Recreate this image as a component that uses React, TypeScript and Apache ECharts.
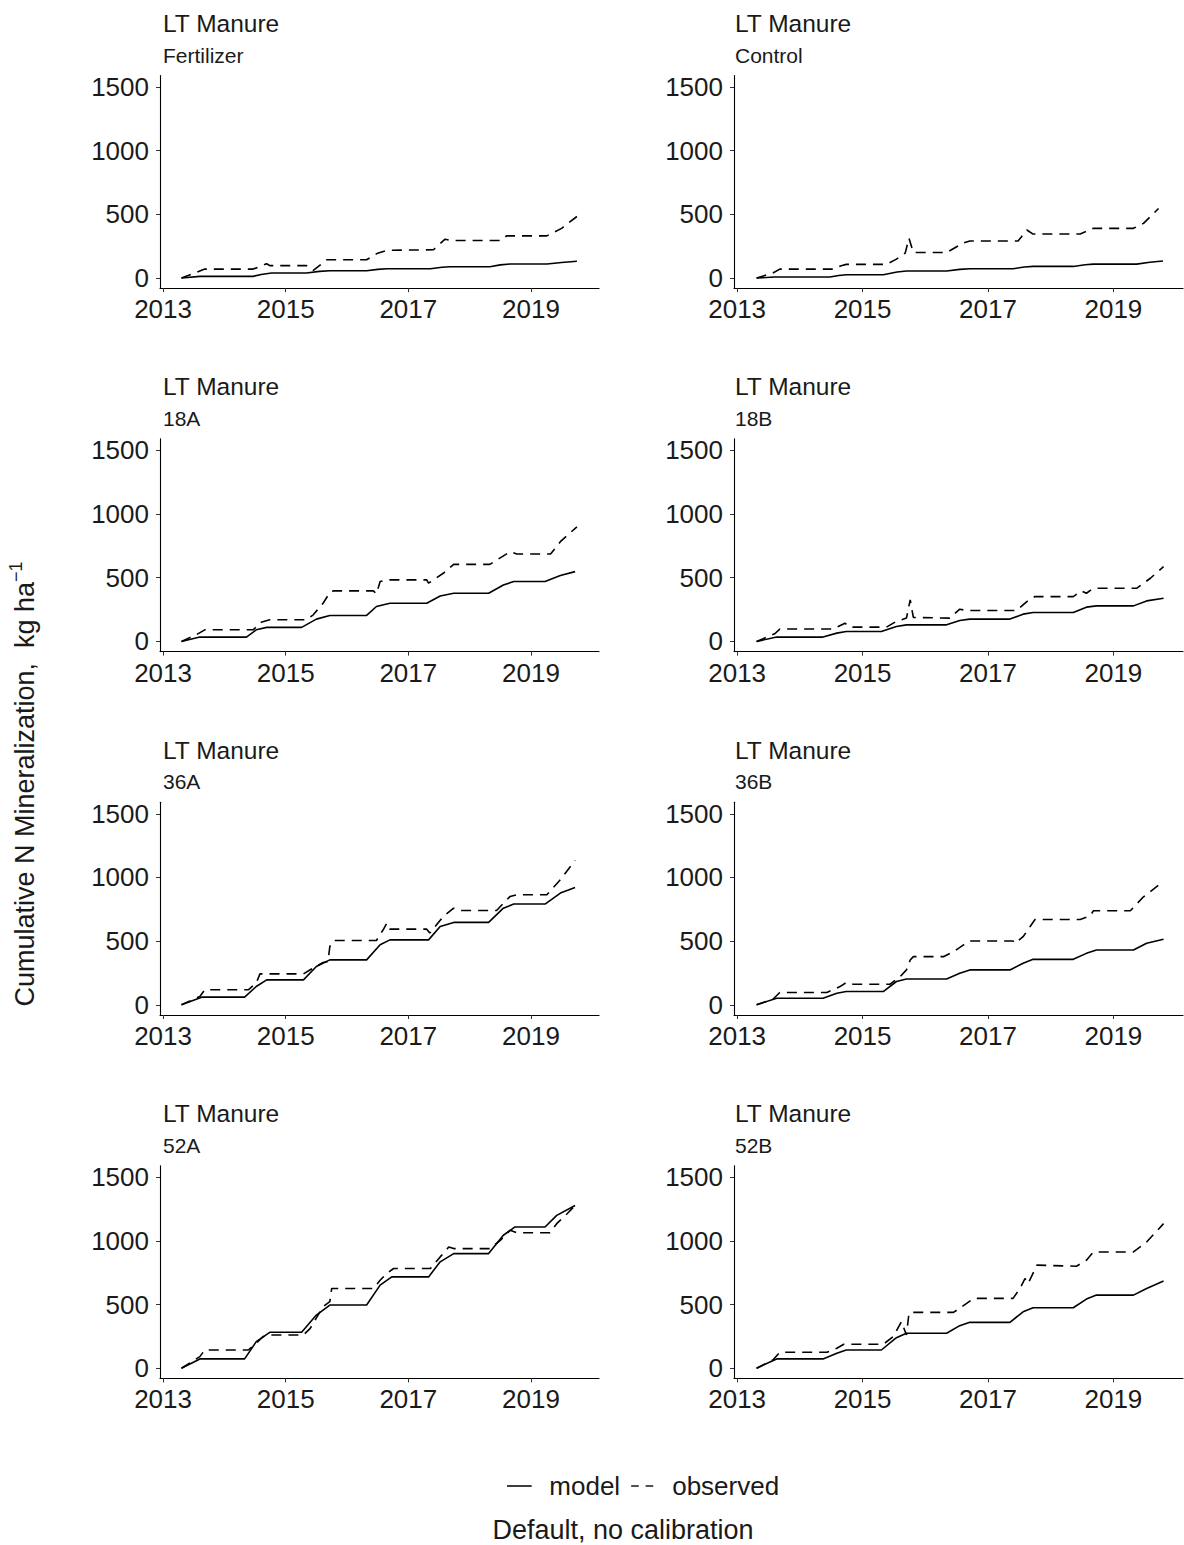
import React, { useEffect, useRef } from "react";
import * as echarts from "echarts";

const FONT = "'Liberation Sans', Arial, Helvetica, sans-serif";
const TXT = "#1a1a1a";

const panelTitle = "LT Manure";
const subtitles = ["Fertilizer", "Control", "18A", "18B", "36A", "36B", "52A", "52B"];
const xTicks = [2013, 2015, 2017, 2019];
const yTicks = [0, 500, 1000, 1500];

const fertModel = [[2013.30,0],[2013.60,13],[2014.47,13],[2014.60,28],[2014.77,39],[2015.34,39],[2015.55,52],[2015.72,57],[2016.32,57],[2016.50,68],[2016.65,73],[2017.36,73],[2017.55,85],[2017.68,89],[2018.33,89],[2018.50,103],[2018.66,110],[2019.26,110],[2019.50,122],[2019.75,132]];
const fertObs = [[2013.30,0],[2013.54,44],[2013.68,70],[2014.47,70],[2014.60,95],[2014.69,112],[2014.74,97],[2015.34,97],[2015.45,60],[2015.67,143],[2016.32,143],[2016.50,195],[2016.65,217],[2017.41,222],[2017.60,305],[2017.68,295],[2018.50,295],[2018.55,308],[2018.60,331],[2019.26,331],[2019.50,390],[2019.75,483]];
const ctrlModel = [[2013.31,0],[2013.60,8],[2014.48,8],[2014.62,20],[2014.74,26],[2015.33,26],[2015.55,47],[2015.70,55],[2016.34,55],[2016.55,68],[2016.71,73],[2017.40,73],[2017.58,86],[2017.72,91],[2018.36,91],[2018.55,104],[2018.68,109],[2019.37,109],[2019.58,124],[2019.79,133]];
const ctrlObs = [[2013.31,0],[2013.57,39],[2013.68,70],[2014.53,70],[2014.66,96],[2014.74,107],[2015.38,107],[2015.54,148],[2015.68,195],[2015.74,312],[2015.81,200],[2016.34,200],[2016.60,273],[2016.71,291],[2017.48,291],[2017.62,377],[2017.72,345],[2018.47,345],[2018.68,390],[2019.32,390],[2019.48,429],[2019.72,546]];
const a18Model = [[2013.30,0],[2013.60,34],[2014.36,34],[2014.52,91],[2014.69,110],[2015.26,110],[2015.50,175],[2015.72,204],[2016.32,204],[2016.48,274],[2016.70,300],[2017.30,300],[2017.52,357],[2017.74,378],[2018.31,378],[2018.55,443],[2018.72,470],[2019.23,470],[2019.48,517],[2019.72,548]];
const a18Obs = [[2013.30,0],[2013.54,52],[2013.68,91],[2014.47,91],[2014.60,150],[2014.74,170],[2015.34,170],[2015.45,209],[2015.61,300],[2015.72,384],[2015.78,397],[2016.43,397],[2016.48,373],[2016.54,470],[2016.65,483],[2017.30,483],[2017.33,457],[2017.57,535],[2017.74,605],[2018.33,605],[2018.66,704],[2018.77,686],[2019.32,686],[2019.48,783],[2019.75,900]];
const b18Model = [[2013.31,0],[2013.63,34],[2014.37,34],[2014.59,65],[2014.74,78],[2015.30,78],[2015.54,117],[2015.70,130],[2016.34,130],[2016.55,164],[2016.71,175],[2017.35,175],[2017.56,214],[2017.72,227],[2018.36,227],[2018.57,269],[2018.73,279],[2019.32,279],[2019.53,318],[2019.80,339]];
const b18Obs = [[2013.31,0],[2013.60,60],[2013.68,97],[2014.53,97],[2014.72,143],[2014.80,112],[2015.38,112],[2015.54,157],[2015.70,183],[2015.76,326],[2015.81,188],[2016.39,183],[2016.55,253],[2016.66,243],[2017.46,243],[2017.62,313],[2017.70,339],[2017.75,352],[2018.36,352],[2018.49,397],[2018.57,378],[2018.68,417],[2019.37,417],[2019.59,496],[2019.80,587]];
const a36Model = [[2013.30,0],[2013.63,60],[2014.33,60],[2014.52,144],[2014.69,196],[2015.29,196],[2015.50,301],[2015.72,353],[2016.32,353],[2016.54,471],[2016.70,510],[2017.33,510],[2017.52,615],[2017.74,647],[2018.31,647],[2018.55,759],[2018.72,791],[2019.23,791],[2019.48,877],[2019.72,921]];
const a36Obs = [[2013.30,0],[2013.60,65],[2013.68,118],[2014.39,118],[2014.52,170],[2014.58,243],[2015.29,243],[2015.40,275],[2015.61,332],[2015.69,340],[2015.72,458],[2015.78,505],[2016.48,505],[2016.59,589],[2016.65,641],[2016.70,594],[2017.30,594],[2017.35,563],[2017.57,694],[2017.74,759],[2017.85,741],[2018.44,741],[2018.66,851],[2018.77,864],[2019.26,864],[2019.48,982],[2019.72,1134]];
const b36Model = [[2013.31,0],[2013.63,52],[2014.37,52],[2014.59,91],[2014.74,104],[2015.33,104],[2015.54,183],[2015.70,203],[2016.34,203],[2016.55,248],[2016.71,274],[2017.35,274],[2017.56,326],[2017.72,357],[2018.36,357],[2018.57,404],[2018.73,430],[2019.32,430],[2019.53,483],[2019.80,514]];
const b36Obs = [[2013.31,0],[2013.57,44],[2013.68,97],[2014.43,97],[2014.64,143],[2014.74,175],[2014.85,162],[2015.44,162],[2015.60,222],[2015.70,274],[2015.76,352],[2015.81,378],[2016.29,378],[2016.45,417],[2016.61,470],[2016.71,501],[2017.40,501],[2017.43,483],[2017.56,535],[2017.67,613],[2017.75,670],[2018.47,670],[2018.63,697],[2018.68,738],[2019.27,738],[2019.48,848],[2019.72,939]];
const a52Model = [[2013.30,0],[2013.60,73],[2014.33,73],[2014.52,209],[2014.74,282],[2015.26,282],[2015.50,417],[2015.72,496],[2016.32,496],[2016.54,652],[2016.73,717],[2017.33,717],[2017.52,835],[2017.74,900],[2018.31,900],[2018.55,1044],[2018.74,1109],[2019.23,1109],[2019.42,1200],[2019.72,1278]];
const a52Obs = [[2013.30,0],[2013.60,91],[2013.68,143],[2014.39,143],[2014.52,196],[2014.63,248],[2014.74,261],[2015.29,261],[2015.40,313],[2015.61,483],[2015.72,522],[2015.75,626],[2016.43,626],[2016.54,691],[2016.65,744],[2016.76,783],[2017.36,783],[2017.52,874],[2017.66,952],[2017.74,939],[2018.33,939],[2018.50,1004],[2018.66,1083],[2018.77,1064],[2019.31,1064],[2019.42,1135],[2019.59,1213],[2019.72,1278]];
const b52Model = [[2013.31,0],[2013.63,73],[2014.37,73],[2014.59,117],[2014.74,143],[2015.30,143],[2015.54,240],[2015.70,274],[2016.34,274],[2016.55,334],[2016.71,360],[2017.35,360],[2017.56,443],[2017.72,475],[2018.36,475],[2018.57,543],[2018.73,574],[2019.32,574],[2019.53,626],[2019.80,684]];
const b52Obs = [[2013.31,0],[2013.57,65],[2013.68,125],[2014.43,125],[2014.59,157],[2014.70,188],[2015.33,188],[2015.49,248],[2015.62,365],[2015.70,261],[2015.74,430],[2015.76,438],[2016.45,438],[2016.66,509],[2016.77,548],[2017.40,548],[2017.51,626],[2017.59,704],[2017.64,665],[2017.78,809],[2018.41,801],[2018.57,848],[2018.68,913],[2019.32,913],[2019.53,991],[2019.80,1135]];

const modelSeries = [fertModel, ctrlModel, a18Model, b18Model, a36Model, b36Model, a52Model, b52Model];
const observedSeries = [fertObs, ctrlObs, a18Obs, b18Obs, a36Obs, b36Obs, a52Obs, b52Obs];

export default function App() {
  const ref = useRef<HTMLDivElement>(null);
  useEffect(() => {
    document.body.style.margin = "0";
    if (!ref.current) return;
    const chart = echarts.init(ref.current, undefined, { renderer: "svg" });
    const rowTop = [75.5, 438.9, 802.3, 1165.7];
    const gridH = 212.7;
    const cols = [
      { left: 160, width: 439, title: 163 },
      { left: 734, width: 449, title: 735 },
    ];
    const grids: any[] = [];
    const xAxes: any[] = [];
    const yAxes: any[] = [];
    const series: any[] = [];
    const graphics: any[] = [];
    for (let i = 0; i < 8; i++) {
      const c = cols[i % 2];
      const r = Math.floor(i / 2);
      grids.push({ left: c.left, top: rowTop[r], width: c.width, height: gridH, containLabel: false });
      xAxes.push({
        gridIndex: i, type: "value", min: 2012.95, max: 2020.11,
        splitLine: { show: false },
        axisLine: { show: true, onZero: false, lineStyle: { color: "#000", width: 1.1 } },
        axisTick: { show: true, length: 4, lineStyle: { color: "#333", width: 1 }, customValues: xTicks },
        axisLabel: { show: true, customValues: xTicks, fontSize: 26, color: TXT, fontFamily: FONT, margin: 8, formatter: (v: number) => String(v) },
      });
      yAxes.push({
        gridIndex: i, type: "value", min: -80, max: 1590,
        splitLine: { show: false },
        axisLine: { show: true, onZero: false, lineStyle: { color: "#000", width: 1.1 } },
        axisTick: { show: true, length: 4, lineStyle: { color: "#333", width: 1 }, customValues: yTicks },
        axisLabel: { show: true, customValues: yTicks, fontSize: 26, color: TXT, fontFamily: FONT, margin: 11, formatter: (v: number) => String(v) },
      });
      series.push({
        type: "line", name: "model", xAxisIndex: i, yAxisIndex: i, data: modelSeries[i],
        showSymbol: false, symbol: "none", silent: true,
        lineStyle: { color: "#000", width: 1.6, type: "solid" }, itemStyle: { color: "#000" },
      });
      series.push({
        type: "line", name: "observed", xAxisIndex: i, yAxisIndex: i, data: observedSeries[i],
        showSymbol: false, symbol: "none", silent: true,
        lineStyle: { color: "#000", width: 1.6, type: [10, 7] }, itemStyle: { color: "#000" },
      });
      graphics.push({
        type: "text", x: c.title, y: 23.5 + 363.4 * r,
        style: { text: panelTitle, fontSize: 24.5, fontFamily: FONT, fill: TXT, align: "left", verticalAlign: "middle" },
      });
      graphics.push({
        type: "text", x: c.title, y: 55 + 363.4 * r,
        style: { text: subtitles[i], fontSize: 21, fontFamily: FONT, fill: TXT, align: "left", verticalAlign: "middle" },
      });
    }
    graphics.push({
      type: "text", x: 25, y: 784, rotation: Math.PI / 2,
      style: {
        text: "{a|Cumulative N Mineralization,  kg ha}{s|−1}",
        align: "center", verticalAlign: "middle", fill: TXT,
        rich: {
          a: { fontSize: 27, fontFamily: FONT, fill: TXT, lineHeight: 36 },
          s: { fontSize: 18, fontFamily: FONT, fill: TXT, verticalAlign: "top", lineHeight: 18 },
        },
      },
    });
    graphics.push({
      type: "text", x: 623, y: 1530,
      style: { text: "Default, no calibration", fontSize: 27, fontFamily: FONT, fill: TXT, align: "center", verticalAlign: "middle" },
    });
    chart.setOption({
      animation: false,
      backgroundColor: "#fff",
      grid: grids,
      xAxis: xAxes,
      yAxis: yAxes,
      series,
      legend: {
        data: [
          { name: "model", icon: "path://M0 0H29V2H0Z" },
          { name: "observed", icon: "path://M0 0H9V2H0Z M17 0H26V2H17Z" },
        ],
        left: 502, top: 1468, itemWidth: 28, itemHeight: 1.7, itemGap: 11,
        selectedMode: false,
        itemStyle: { color: "#1a1a1a", borderWidth: 0 },
        textStyle: { fontSize: 26, color: TXT, fontFamily: FONT, padding: [0, 0, 0, 11] },
      },
      graphic: graphics,
    });
    return () => chart.dispose();
  }, []);
  return <div ref={ref} style={{ width: 1184, height: 1545 }} />;
}
